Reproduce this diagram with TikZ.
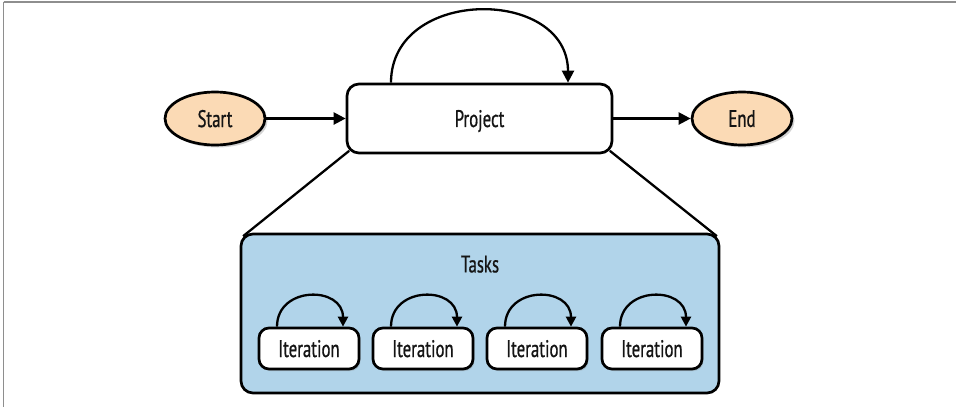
\documentclass[tikz,border=0pt]{standalone}
\usepackage{fontspec}
\setmainfont{PT Sans}[FakeStretch=0.7, FakeBold=0.7]
\usetikzlibrary{arrows.meta,shapes.geometric,shadows,calc}
\definecolor{peach}{HTML}{FBDAB5}
\definecolor{taskblue}{HTML}{B1D4EA}
\definecolor{framegray}{HTML}{8E8E8E}
\definecolor{ink}{HTML}{141414}
\tikzset{
  lbl/.style={font=\fontsize{24}{26}\selectfont, text=ink, text depth=0pt},
  terminal/.style={ellipse, draw=black, line width=2.7pt, fill=peach,
    minimum width=100pt, minimum height=53pt, inner sep=0pt, lbl,
    drop shadow={shadow xshift=2.5pt, shadow yshift=-2.5pt, opacity=0.35}},
  bigbox/.style={rectangle, rounded corners=12pt, draw=black, line width=2.7pt,
    fill=white, minimum width=265pt, minimum height=69pt, inner sep=0pt, lbl},
  taskbox/.style={rectangle, rounded corners=12pt, draw=black, line width=2.7pt,
    fill=taskblue, minimum width=478pt, minimum height=159pt, inner sep=0pt},
  iterbox/.style={rectangle, rounded corners=10pt, draw=black, line width=2.7pt,
    fill=white, minimum width=100pt, minimum height=41pt, inner sep=0pt, lbl,
    drop shadow={shadow xshift=1.5pt, shadow yshift=-2pt, opacity=0.3}},
  flow/.style={line width=2.3pt, draw=black, -{Triangle[length=12pt,width=12pt]}},
  smallflow/.style={line width=2.3pt, draw=black, -{Triangle[length=10pt,width=10pt]}},
  link/.style={line width=2.3pt, draw=black},
}
\begin{document}
\begin{tikzpicture}[x=1pt,y=-1pt]
\useasboundingbox (0,0) rectangle (956,407);
% page frame (top and left rules)
\draw[framegray, line width=2pt] (3.5,1.5) -- (956,1.5);
\draw[framegray, line width=1.6pt] (3.5,1.5) -- (3.5,407);

% main flow
\node[terminal] (start) at (215,118.5) {Start};
\node[bigbox] (proj) at (479.5,118.5) {Project};
\node[terminal] (end) at (742,118.5) {End};
\draw[flow] (start) -- (proj);
\draw[flow] (proj) -- (end);
\draw[flow] ([xshift=-88.5pt]proj.north) .. controls +(0,-96) and +(0,-96) .. ([xshift=88.5pt]proj.north);

% expansion into tasks
\node[taskbox] (tasks) at (480,313.5) {};
\node[lbl] (tasklbl) at (480,264) {Tasks};
\draw[link] ($(proj.south west)+(3.5,-3.5)$) -- ($(tasks.north west)+(3.5,3.5)$);
\draw[link] ($(proj.south east)+(-3.5,-3.5)$) -- ($(tasks.north east)+(-3.5,3.5)$);

% iterations
\foreach \i/\cx in {1/309,2/423,3/537,4/652}{
  \node[iterbox] (it\i) at (\cx,348.5) {Iteration};
  \draw[smallflow] ([xshift=-32pt]it\i.north) .. controls +(0,-41) and +(0,-41) .. ([xshift=34pt]it\i.north);
}
\end{tikzpicture}
\end{document}
